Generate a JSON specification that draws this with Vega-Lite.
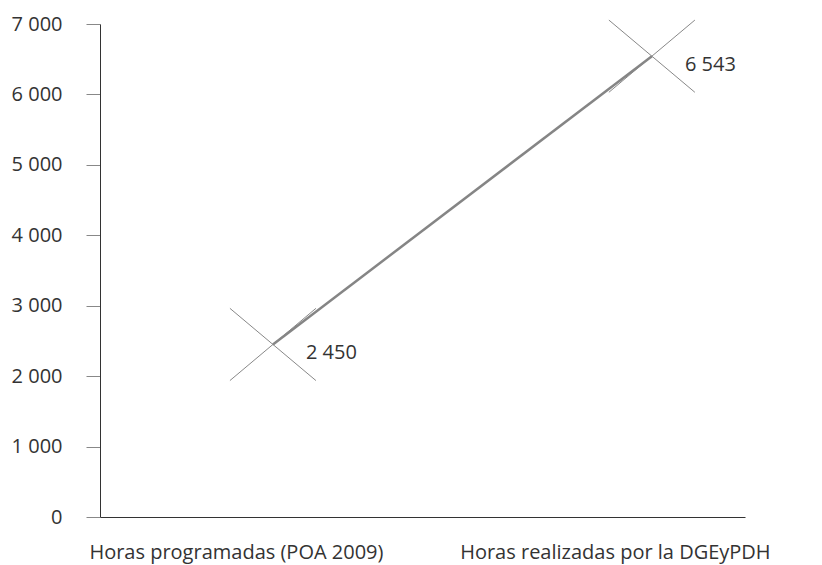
{
  "$schema": "https://vega.github.io/schema/vega-lite/v6.json",
  "width": 645,
  "height": 493,
  "autosize": "none",
  "padding": {"left": 100, "top": 24, "right": 77, "bottom": 48},
  "config": {
    "view": {"stroke": null},
    "font": "Open Sans",
    "locale": {"number": {"decimal": ",", "thousands": " ", "grouping": [3], "currency": ["", ""]}}
  },
  "data": {
    "values": [
      {"tipo": "Horas programadas (POA 2009)", "horas": 2450},
      {"tipo": "Horas realizadas por la DGEyPDH", "horas": 6543}
    ]
  },
  "encoding": {
    "x": {
      "field": "tipo",
      "type": "nominal",
      "sort": null,
      "scale": {"type": "point", "padding": 0.351, "align": 0.65},
      "axis": {
        "title": null,
        "labelAngle": 0,
        "labelOffset": -37,
        "ticks": false,
        "labelPadding": 25,
        "labelFontSize": 20,
        "labelColor": "#333333",
        "labelFont": "Open Sans",
        "domainColor": "#333333",
        "labelLimit": 0
      }
    },
    "y": {
      "field": "horas",
      "type": "quantitative",
      "scale": {"domain": [0, 7000]},
      "axis": {
        "title": null,
        "values": [0, 1000, 2000, 3000, 4000, 5000, 6000, 7000],
        "format": ",d",
        "grid": false,
        "tickSize": 14,
        "tickColor": "#888888",
        "labelPadding": 24,
        "labelFontSize": 20,
        "labelColor": "#333333",
        "labelFont": "Open Sans",
        "domainColor": "#333333"
      }
    }
  },
  "layer": [
    {"mark": {"type": "line", "color": "#858585", "strokeWidth": 2.5}},
    {"mark": {"type": "point", "shape": "M-1,-0.84L1,0.84M1,-0.84L-1,0.84", "filled": false, "stroke": "#888888", "strokeWidth": 1, "size": 7396, "opacity": 1}},
    {
      "mark": {"type": "text", "align": "left", "baseline": "middle", "dx": 33, "dy": 9, "fontSize": 20, "color": "#333333", "font": "Open Sans"},
      "encoding": {"text": {"field": "horas", "type": "quantitative", "format": ",d"}}
    }
  ]
}
